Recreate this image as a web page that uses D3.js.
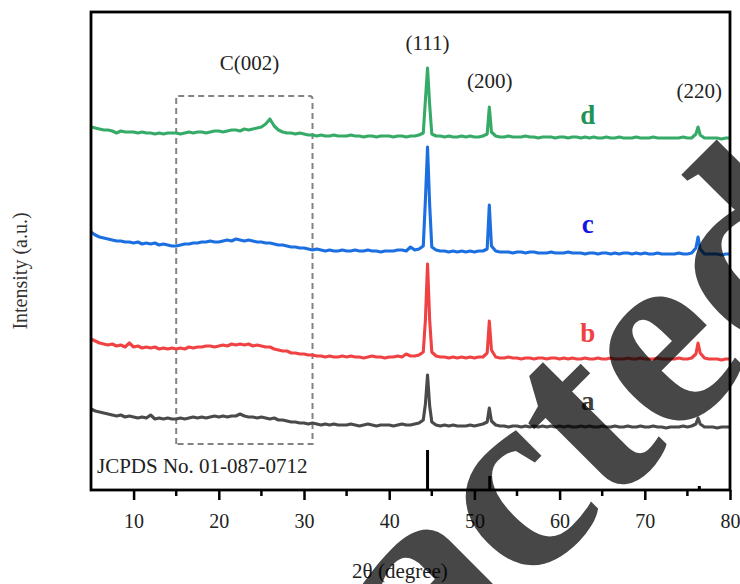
<!DOCTYPE html>
<html>
<head>
<meta charset="utf-8">
<script src="https://cdn.jsdelivr.net/npm/d3@7"></script>
<style>
  body { margin: 0; background: #fff; }
  text { font-family: "Liberation Serif", "Times New Roman", serif; }
</style>
</head>
<body>
<div id="chart"></div>
<script>
// 2theta grid (degree)
var twoTheta = [
  5,5.5,6,6.5,7,7.5,8,8.5,9,9.5,
  10,10.5,11,11.5,12,12.5,13,13.5,14,14.5,
  15,15.5,16,16.5,17,17.5,18,18.5,19,19.5,
  20,20.5,21,21.5,22,22.5,23,23.5,24,24.5,
  25,25.5,26,26.5,27,27.5,28,28.5,29,29.5,
  30,30.5,31,31.5,32,32.5,33,33.5,34,34.5,
  35,35.5,36,36.5,37,37.5,38,38.5,39,39.5,
  40,40.5,41,41.5,42,42.5,43,43.5,44,44.25,
  44.5,44.75,45,45.5,46,46.5,47,47.5,48,48.5,
  49,49.5,50,50.5,51,51.5,51.75,52,52.5,53,
  53.5,54,54.5,55,55.5,56,56.5,57,57.5,58,
  58.5,59,59.5,60,60.5,61,61.5,62,62.5,63,
  63.5,64,64.5,65,65.5,66,66.5,67,67.5,68,
  68.5,69,69.5,70,70.5,71,71.5,72,72.5,73,
  73.5,74,74.5,75,75.5,76,76.25,76.5,77,77.5,
  78,78.5,79,79.5,80
];

// intensities (a.u., already stacked)
var seriesA = [
  81,79,78,77,76,75,74,75,73,74,
  73,72,73,72,75,71,72,71,72,71,
  71,72,71,72,73,72,73,72,73,74,
  73,74,73,74,74,76,74,73,73,72,
  73,72,71,72,70,70,69,68,68,67,
  67,66,67,66,65,66,65,66,65,65,
  65,66,65,64,65,66,65,64,65,65,
  65,64,65,66,65,65,66,67,70,86,
  115,84,68,65,64,65,64,65,64,64,
  64,65,64,65,66,68,82,69,65,64,
  64,63,64,64,63,64,63,64,63,64,
  63,64,63,64,63,64,63,63,64,63,
  64,63,63,64,63,63,64,63,63,64,
  63,63,64,63,63,64,63,63,62,63,
  63,63,64,63,64,66,72,66,63,63,
  63,62,63,63,63
];
var seriesB = [
  151,149,147,146,145,146,144,145,143,147,
  143,144,142,143,142,143,141,142,141,142,
  141,142,141,143,142,143,143,144,144,143,
  144,145,144,146,145,146,145,146,144,145,
  144,143,143,141,140,139,139,137,137,136,
  136,135,135,134,134,133,134,133,133,134,
  133,134,133,133,132,133,134,133,133,132,
  133,133,134,133,136,134,134,135,138,170,
  226,170,138,134,133,133,132,133,132,133,
  132,133,132,133,133,137,169,140,133,132,
  132,133,132,132,131,132,132,131,132,132,
  131,132,132,131,132,131,132,131,131,132,
  131,131,132,131,131,132,131,131,131,132,
  131,131,132,131,131,131,132,131,131,131,
  131,132,131,131,132,136,147,137,132,131,
  131,131,130,131,131
];
var seriesC = [
  258,255,253,252,251,250,249,249,248,248,
  247,248,246,247,246,247,245,246,245,244,
  244,245,246,246,247,247,248,248,249,248,
  248,249,250,249,251,250,249,250,249,248,
  248,247,247,246,245,245,244,243,243,242,
  242,241,240,241,240,239,240,239,239,240,
  239,239,240,239,239,240,239,239,238,239,
  239,239,240,240,239,243,240,241,244,290,
  343,285,243,240,239,239,238,239,238,239,
  238,239,238,239,239,241,285,244,239,238,
  238,238,237,238,238,237,238,238,237,237,
  237,238,237,237,237,238,237,237,237,236,
  237,237,236,237,237,236,237,236,237,237,
  236,237,236,237,236,236,237,236,236,236,
  236,237,236,236,237,242,253,241,236,236,
  236,236,235,236,236
];
var seriesD = [
  363,362,361,360,360,359,357,359,358,358,
  358,357,358,357,357,356,357,356,357,357,
  357,356,357,358,357,358,358,357,358,359,
  359,358,359,360,360,359,361,360,361,362,
  363,366,371,364,360,358,357,357,356,357,
  356,355,355,354,355,354,354,355,354,354,
  354,355,354,354,353,354,354,353,354,354,
  354,353,354,354,353,354,354,355,357,390,
  422,385,356,354,354,353,354,353,353,354,
  353,354,353,353,354,356,383,358,354,353,
  353,354,353,353,353,354,353,353,352,353,
  353,353,352,353,353,352,353,353,352,353,
  352,353,352,352,353,352,352,353,352,352,
  352,353,352,352,352,353,352,352,352,352,
  352,352,353,352,352,356,363,355,352,352,
  352,352,351,352,352
];

var seriesNames = ['a', 'b', 'c', 'd'];
var seriesColors = ['#4a4a4a', '#f04242', '#1c6fe0', '#36ab68'];
var labelColors = ['#3f3f3f', '#f04242', '#1414e6', '#1e9358'];
var labelPos = [[63.3, 80], [63.3, 148], [63.3, 257], [63.3, 366]];

// JCPDS No. 01-087-0712 reference lines
var refAngles = [44.5, 51.8, 76.4];
var refHeights = [40, 14, 4];

// peak labels
var peakLabels = ['(111)', '(200)', '(220)', 'C(002)'];
var peakPos = [[44.5, 440], [51.8, 402], [76.4, 392], [23.6, 420]];

var boxX = [15, 31];
var boxY = [46, 394];

var xTicks = [10, 20, 30, 40, 50, 60, 70, 80];
var xMinor = [15, 25, 35, 45, 55, 65, 75];

//---------------------------------------------
var width = 740, height = 584;
var plotLeft = 91, plotRight = 730, plotTop = 12, plotBottom = 490;

var svg = d3.select('#chart').append('svg')
  .attr('width', width).attr('height', height);

var x = d3.scaleLinear().domain([5, 80]).range([plotLeft, plotRight]);
var y = d3.scaleLinear().domain([0, 478]).range([plotBottom, plotTop]);

// dashed box round the carbon hump
svg.append('path')
  .attr('d', 'M' + x(boxX[0]) + ',' + y(boxY[0]) +
             'V' + y(boxY[1]) + 'H' + (x(boxX[1]) - 3) +
             'Q' + x(boxX[1]) + ',' + y(boxY[1]) + ' ' + x(boxX[1]) + ',' + (y(boxY[1]) + 3) +
             'V' + y(boxY[0]) + 'Z')
  .attr('fill', 'none').attr('stroke', '#838383')
  .attr('stroke-width', 2).attr('stroke-dasharray', '6,4');

var line = d3.line()
  .x(function(d, i) { return x(twoTheta[i]); })
  .y(function(d) { return y(d); });

var allSeries = [seriesA, seriesB, seriesC, seriesD];
allSeries.forEach(function(s, k) {
  svg.append('path').datum(s)
    .attr('d', line)
    .attr('fill', 'none')
    .attr('stroke', seriesColors[k])
    .attr('stroke-width', 3.1)
    .attr('stroke-linejoin', 'round');
});

// series letters
svg.selectAll('.slabel').data(seriesNames).enter().append('text')
  .attr('class', 'slabel')
  .attr('x', function(d, i) { return x(labelPos[i][0]); })
  .attr('y', function(d, i) { return y(labelPos[i][1]); })
  .attr('text-anchor', 'middle')
  .attr('font-size', 27).attr('font-weight', 'bold')
  .attr('fill', function(d, i) { return labelColors[i]; })
  .text(function(d) { return d; });

// peak labels
svg.selectAll('.plabel').data(peakLabels).enter().append('text')
  .attr('class', 'plabel')
  .attr('x', function(d, i) { return x(peakPos[i][0]); })
  .attr('y', function(d, i) { return y(peakPos[i][1]); })
  .attr('text-anchor', 'middle')
  .attr('font-size', 21).attr('fill', '#222')
  .text(function(d) { return d; });

// reference sticks
svg.selectAll('.ref').data(refAngles).enter().append('line')
  .attr('x1', function(d) { return x(d); })
  .attr('x2', function(d) { return x(d); })
  .attr('y1', y(0))
  .attr('y2', function(d, i) { return y(refHeights[i]); })
  .attr('stroke', '#000').attr('stroke-width', 3);

svg.append('text')
  .attr('x', 97).attr('y', 473)
  .attr('font-size', 21).attr('fill', '#222')
  .text('JCPDS No. 01-087-0712');

// axis ticks
var xAxis = d3.axisBottom(x).tickValues(xTicks).tickSize(10).tickPadding(14);
var gx = svg.append('g').attr('transform', 'translate(0,' + plotBottom + ')').call(xAxis);
gx.select('.domain').remove();
gx.selectAll('line').attr('stroke', '#000').attr('stroke-width', 2.5);
gx.selectAll('text')
  .attr('font-family', '"Liberation Serif", serif')
  .attr('font-size', 20).attr('fill', '#222');

var gm = svg.append('g').attr('transform', 'translate(0,' + plotBottom + ')');
gm.selectAll('line').data(xMinor).enter().append('line')
  .attr('x1', function(d) { return x(d); })
  .attr('x2', function(d) { return x(d); })
  .attr('y1', 0).attr('y2', 6)
  .attr('stroke', '#000').attr('stroke-width', 2.5);

// frame
svg.append('rect')
  .attr('x', plotLeft).attr('y', plotTop)
  .attr('width', plotRight - plotLeft).attr('height', plotBottom - plotTop)
  .attr('fill', 'none').attr('stroke', '#000').attr('stroke-width', 2.8);

// axis titles
svg.append('text')
  .attr('transform', 'translate(27,271) rotate(-90)')
  .attr('text-anchor', 'middle')
  .attr('font-size', 20).attr('fill', '#333')
  .text('Intensity (a.u.)');

svg.append('text')
  .attr('x', 400).attr('y', 578)
  .attr('text-anchor', 'middle')
  .attr('font-size', 21).attr('fill', '#222')
  .text('2θ (degree)');

// watermark
svg.append('text')
  .attr('transform', 'translate(65,1052) rotate(-45)')
  .attr('font-size', 266).attr('font-weight', 'bold')
  .attr('fill', '#000').attr('fill-opacity', 0.72)
  .text('Retracted');
</script>
</body>
</html>
